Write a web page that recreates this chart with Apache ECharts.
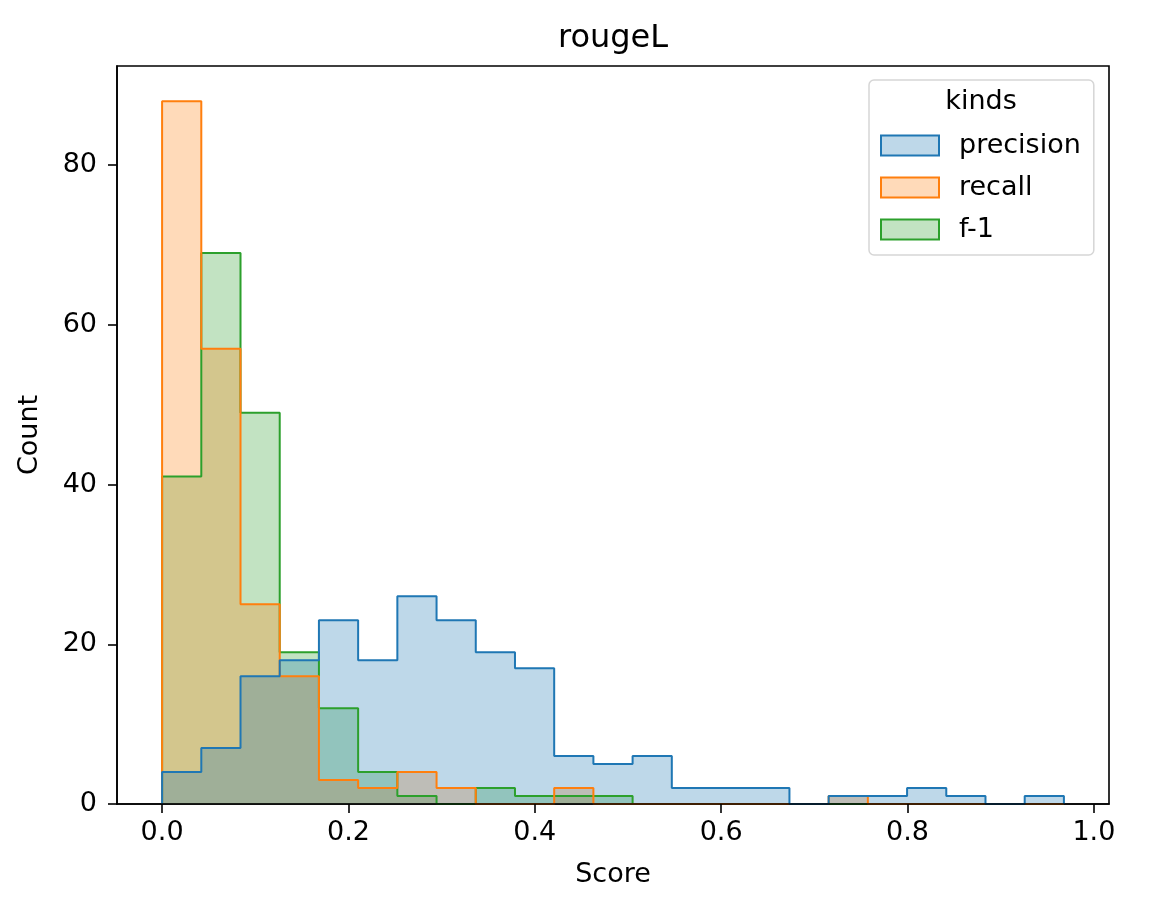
<!DOCTYPE html>
<html>
<head>
<meta charset="utf-8">
<script src="https://cdn.jsdelivr.net/npm/echarts@6/dist/echarts.min.js"></script>
<style>
html,body{margin:0;padding:0;background:#fff;}
#chart{width:1172px;height:906px;}
</style>
</head>
<body>
<div id="chart"></div>
<script>
// ---- data ----
const kinds = ['precision', 'recall', 'f-1'];
const binStart = 0;
const binWidth = 0.04208;
const precisionCounts = [4,7,16,18,23,18,26,23,19,17,6,5,6,2,2,2,0,1,1,2,1,0,1];
const recallCounts    = [88,57,25,16,3,2,4,2,0,0,2,0,0,0,0,0,0,1,0,0,0,0,0];
const f1Counts        = [41,69,49,19,12,4,1,0,2,1,1,1,0,0,0,0,0,0,0,0,0,0,0];
const xTicks = [0, 0.2, 0.4, 0.6, 0.8, 1.0];
const yTicks = [0, 20, 40, 60, 80];
const colors = {precision:'#1f77b4', recall:'#ff7f0e', 'f-1':'#2ca02c'};
const fills  = {precision:'rgba(31,119,180,0.29)', recall:'rgba(255,127,14,0.29)', 'f-1':'rgba(44,160,44,0.29)'};
const countsByKind = {precision: precisionCounts, recall: recallCounts, 'f-1': f1Counts};

function stepData(counts){
  const pts = [[binStart, 0]];
  counts.forEach((c, i) => pts.push([binStart + i*binWidth, c]));
  pts.push([binStart + counts.length*binWidth, 0]);
  return pts;
}

const nBins = precisionCounts.length;
const dataMax = binStart + nBins*binWidth;
const xMargin = (dataMax - binStart)*0.05;
const yMax = Math.max(...precisionCounts, ...recallCounts, ...f1Counts)*1.05;

const FONT = 'DejaVu Sans';
const FS = 27;
const chart = echarts.init(document.getElementById('chart'), null, {renderer:'canvas'});

// draw f-1 first, precision on top (seaborn layering)
const drawOrder = ['f-1', 'recall', 'precision'];
const series = drawOrder.map(k => ({
  name: k,
  type: 'line',
  step: 'end',
  symbol: 'none',
  showSymbol: false,
  z: 2,
  data: stepData(countsByKind[k]),
  lineStyle: {color: colors[k], width: 2},
  itemStyle: {color: colors[k]},
  areaStyle: {color: fills[k], opacity: 1},
  emphasis: {disabled: true},
  animation: false
}));

chart.setOption({
  animation: false,
  backgroundColor: '#fff',
  textStyle: {fontFamily: FONT},
  grid: {left: 117, top: 66, width: 992, height: 738, show: true, borderColor: '#000', borderWidth: 1.6, backgroundColor: 'transparent'},
  xAxis: {
    type: 'value',
    z: 10,
    min: binStart - xMargin,
    max: dataMax + xMargin,
    name: 'Score',
    nameLocation: 'middle',
    nameGap: 57,
    nameTextStyle: {fontFamily: FONT, fontSize: FS, color: '#000'},
    axisLine: {show: true, onZero: false, lineStyle: {color: '#000', width: 1.6}},
    axisTick: {show: true, length: 9, inside: false, customValues: xTicks, lineStyle: {color: '#000', width: 1.6}},
    axisLabel: {customValues: xTicks, formatter: v => v.toFixed(1), fontFamily: FONT, fontSize: FS, color: '#000', margin: 15},
    splitLine: {show: false}
  },
  yAxis: {
    type: 'value',
    z: 10,
    min: 0,
    max: yMax,
    name: 'Count',
    nameLocation: 'middle',
    nameGap: 74,
    nameTextStyle: {fontFamily: FONT, fontSize: FS, color: '#000'},
    axisLine: {show: true, onZero: false, lineStyle: {color: '#000', width: 1.6}},
    axisTick: {show: true, length: 9, inside: false, customValues: yTicks, lineStyle: {color: '#000', width: 1.6}},
    axisLabel: {customValues: yTicks, fontFamily: FONT, fontSize: FS, color: '#000', margin: 20},
    splitLine: {show: false}
  },
  legend: {
    orient: 'vertical',
    left: 869,
    top: 80,
    z: 20,
    selectedMode: false,
    backgroundColor: 'rgba(255,255,255,0.8)',
    borderColor: '#d6d6d6',
    borderWidth: 1.5,
    borderRadius: 5,
    padding: [52, 13, 12, 11],
    itemWidth: 58,
    itemHeight: 20,
    itemGap: 15,
    textStyle: {fontFamily: FONT, fontSize: FS, color: '#000', lineHeight: 25, padding: [0, 0, 0, 15]},
    data: kinds.map(k => ({
      name: k,
      icon: 'rect',
      itemStyle: {color: fills[k], borderColor: colors[k], borderWidth: 2}
    }))
  },
  graphic: [
    {type: 'text', x: 613, y: 39, z: 100, style: {text: 'rougeL', font: '32px "DejaVu Sans"', fill: '#000', align: 'center', verticalAlign: 'middle'}},
    {type: 'text', x: 981, y: 102, z: 100, style: {text: 'kinds', font: FS + 'px "DejaVu Sans"', fill: '#000', align: 'center', verticalAlign: 'middle'}}
  ],
  series: series
});
</script>
</body>
</html>
